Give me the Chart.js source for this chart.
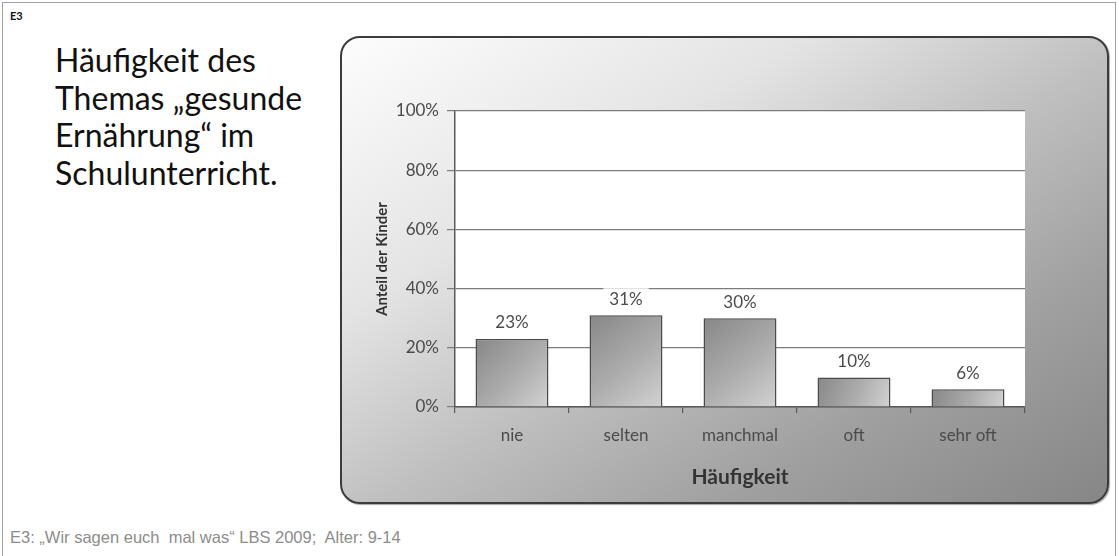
<!DOCTYPE html>
<html lang="de">
<head>
<meta charset="utf-8">
<title>Häufigkeit des Themas „gesunde Ernährung“ im Schulunterricht</title>
<script src="https://cdn.jsdelivr.net/npm/chart.js@4.4.1/dist/chart.umd.min.js"></script>
<style>
  html, body { margin: 0; padding: 0; background: #fff; }
  body { width: 1119px; height: 556px; position: relative; overflow: hidden; }
  .frame {
    position: absolute; left: 2px; top: 2px; width: 1114px; height: 600px;
    border: 1px solid #a0a0a0; box-sizing: border-box;
  }
  .tag {
    position: absolute; left: 10px; top: 9px;
    font: bold 11px "Lato", sans-serif; color: #111;
  }
  .heading {
    position: absolute; left: 55px; top: 41px;
    font: 32px/37.5px "Lato", sans-serif; color: #111; margin: 0; font-weight: normal;
  }
  .panel {
    position: absolute; left: 340px; top: 36px; width: 769px; height: 468px;
    box-sizing: border-box; border: 2px solid #3c3c3c; border-radius: 20px;
    background: linear-gradient(to bottom right, #fdfdfd 0%, #e4e4e4 30%, #c0c0c0 52%, #a0a0a0 75%, #868686 100%);
    box-shadow: 1px 1px 1px rgba(0,0,0,0.35);
  }
  #chart { position: absolute; left: 342px; top: 37px; }
  .source {
    position: absolute; left: 10px; top: 528px;
    font: 16.5px "Liberation Sans", Arial, sans-serif; color: #8c8c8c; white-space: pre;
  }
</style>
</head>
<body>
<div class="frame"></div>
<div class="tag">E3</div>
<h1 class="heading">Häufigkeit des<br>Themas „gesunde<br>Ernährung“ im<br>Schulunterricht.</h1>
<div class="panel"></div>
<canvas id="chart" width="766" height="466"></canvas>
<div class="source">E3: „Wir sagen euch  mal was“ LBS 2009;  Alter: 9-14</div>

<script>
// Antworthäufigkeiten (Anteil der Kinder in %)
const categories = ['nie', 'selten', 'manchmal', 'oft', 'sehr oft'];
const shares = [23, 31, 30, 10, 6];
const yTicks = [0, 20, 40, 60, 80, 100];

const BAR_PCT = 0.64;
const TEXT = '#4a4a4a';

// white plotting surface behind grid and bars
const plotBackground = {
  id: 'plotBackground',
  beforeDraw(chart) {
    const {ctx, chartArea: a} = chart;
    ctx.save();
    ctx.fillStyle = '#ffffff';
    ctx.fillRect(a.left, a.top, a.right - a.left, a.bottom - a.top);
    ctx.restore();
  }
};

// percentage labels above each bar, on a white patch that breaks the grid line
const valueLabels = {
  id: 'valueLabels',
  afterDatasetsDraw(chart) {
    const {ctx} = chart;
    const meta = chart.getDatasetMeta(0);
    ctx.save();
    ctx.font = '17px Lato, sans-serif';
    ctx.textAlign = 'center';
    ctx.textBaseline = 'middle';
    meta.data.forEach((bar, i) => {
      const txt = shares[i] + '%';
      const w = ctx.measureText(txt).width + 12;
      const y = bar.y - 17;
      ctx.fillStyle = '#ffffff';
      ctx.fillRect(bar.x - w / 2, y - 10, w, 20);
      ctx.fillStyle = TEXT;
      ctx.fillText(txt, bar.x, y + 1);
    });
    ctx.restore();
  }
};

function barFill(context) {
  const chart = context.chart;
  const xs = chart.scales.x, ys = chart.scales.y;
  if (!chart.chartArea || !xs || !ys) return '#aaaaaa';
  const i = context.dataIndex;
  const cx = xs.getPixelForValue(i);
  const half = (xs.width / categories.length) * BAR_PCT / 2;
  const top = ys.getPixelForValue(shares[i]);
  const bottom = ys.getPixelForValue(0);
  const g = chart.ctx.createLinearGradient(cx - half, top, cx + half, bottom);
  g.addColorStop(0, '#878787');
  g.addColorStop(0.55, '#adadad');
  g.addColorStop(1, '#d2d2d2');
  return g;
}

new Chart(document.getElementById('chart'), {
  type: 'bar',
  data: {
    labels: categories,
    datasets: [{
      data: shares,
      backgroundColor: barFill,
      borderColor: '#4a4a4a',
      borderWidth: 1.5,
      barPercentage: BAR_PCT,
      categoryPercentage: 1
    }]
  },
  options: {
    responsive: false,
    animation: false,
    events: [],
    layout: { padding: { left: 0, top: 74, right: 83, bottom: 0 } },
    plugins: { legend: { display: false }, tooltip: { enabled: false } },
    scales: {
      x: {
        grid: { drawOnChartArea: false, tickLength: 6, color: '#5a5a5a', lineWidth: 1.2 },
        border: { display: true, color: '#5a5a5a', width: 1.5 },
        ticks: { color: TEXT, font: { family: 'Lato', size: 17 }, padding: 12, maxRotation: 0 },
        title: {
          display: true, text: 'Häufigkeit', color: '#333',
          font: { family: 'Lato', size: 21, weight: 'bold' },
          padding: { top: 0, bottom: 13 }
        },
        afterFit(scale) { scale.height = 96; }
      },
      y: {
        min: 0, max: 100,
        afterBuildTicks(scale) { scale.ticks = yTicks.map(v => ({ value: v })); },
        grid: { color: '#7c7c7c', lineWidth: 1.2, tickLength: 8 },
        border: { display: true, color: '#5a5a5a', width: 1.5 },
        ticks: {
          color: TEXT, font: { family: 'Lato', size: 17 }, padding: 8,
          callback: v => v + '%'
        },
        title: {
          display: true, text: 'Anteil der Kinder', color: '#333',
          font: { family: 'Lato', size: 15, weight: 'bold' },
          padding: { top: 31, bottom: 0 }
        },
        afterFit(scale) { scale.width = 113; }
      }
    }
  },
  plugins: [plotBackground, valueLabels]
});
</script>
</body>
</html>
